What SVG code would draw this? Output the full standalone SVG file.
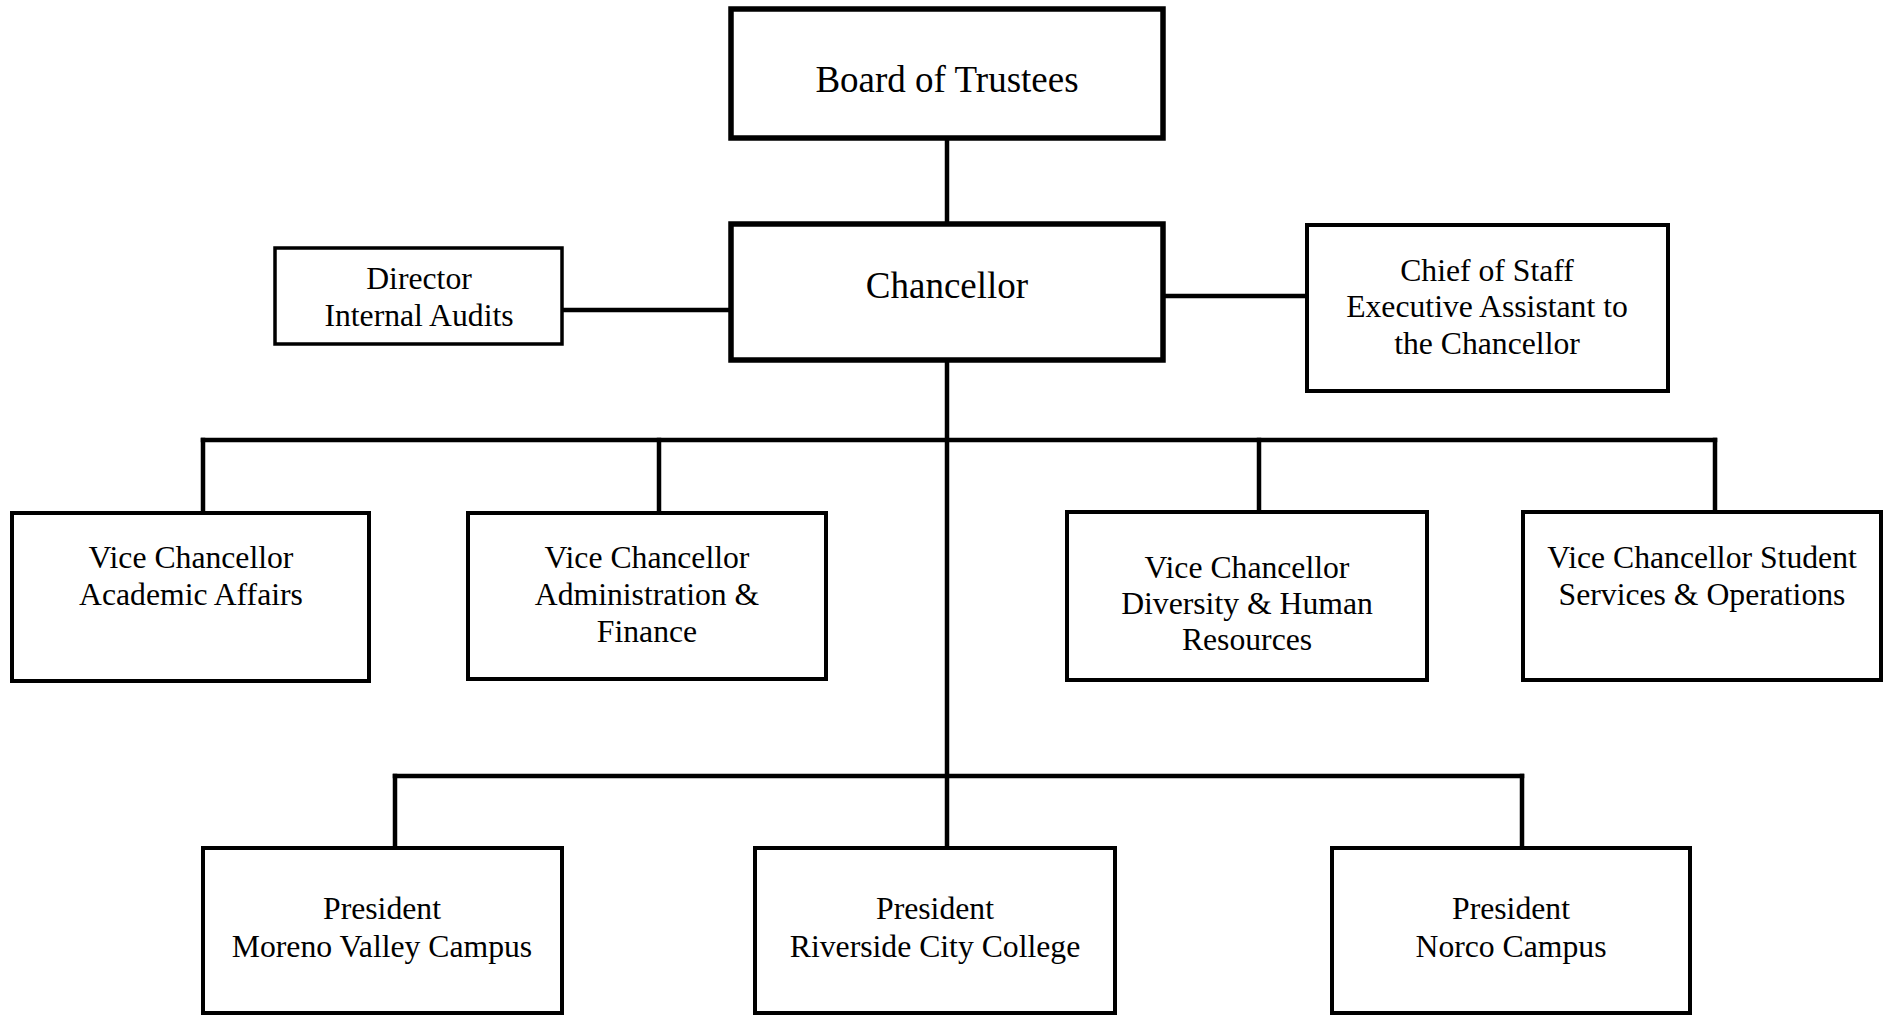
<svg xmlns="http://www.w3.org/2000/svg" width="1889" height="1016" viewBox="0 0 1889 1016">
<style>
.box{fill:#fff;stroke:#000;stroke-width:4}
.big{fill:#fff;stroke:#000;stroke-width:5.5}
.ln{stroke:#000;stroke-width:4.5;fill:none;stroke-linecap:square}
text{font-family:"Liberation Serif","Times New Roman",serif;fill:#000;text-anchor:middle;font-size:31.7px}
.t1{font-size:37px}
</style>
<rect width="1889" height="1016" fill="#fff"/>
<g id="connectors">
<line class="ln" x1="947" y1="141" x2="947" y2="222"/>
<line class="ln" x1="564" y1="310" x2="728" y2="310"/>
<line class="ln" x1="1166" y1="296" x2="1305" y2="296"/>
<line class="ln" x1="947" y1="363" x2="947" y2="846"/>
<line class="ln" x1="203" y1="440" x2="1715" y2="440"/>
<line class="ln" x1="203" y1="440" x2="203" y2="511"/>
<line class="ln" x1="659" y1="440" x2="659" y2="511"/>
<line class="ln" x1="1259" y1="440" x2="1259" y2="510"/>
<line class="ln" x1="1715" y1="440" x2="1715" y2="510"/>
<line class="ln" x1="395" y1="776" x2="1522" y2="776"/>
<line class="ln" x1="395" y1="776" x2="395" y2="846"/>
<line class="ln" x1="1522" y1="776" x2="1522" y2="846"/>
</g>
<g id="board">
<rect class="big" x="731" y="9" width="432" height="129"/>
<text class="t1" x="947" y="92">Board of Trustees</text>
</g>
<g id="chancellor">
<rect class="big" x="731" y="224" width="432" height="136"/>
<text class="t1" x="947" y="298">Chancellor</text>
</g>
<g id="director">
<rect class="box" x="275" y="248" width="287" height="96" style="stroke-width:3.5"/>
<text x="419" y="289">Director</text>
<text x="419" y="326">Internal Audits</text>
</g>
<g id="chief">
<rect class="box" x="1307" y="225" width="361" height="166"/>
<text x="1487" y="281">Chief of Staff</text>
<text x="1487" y="317">Executive Assistant to</text>
<text x="1487" y="354">the Chancellor</text>
</g>
<g id="vc-academic">
<rect class="box" x="12" y="513" width="357" height="168"/>
<text x="191" y="568">Vice Chancellor</text>
<text x="191" y="605">Academic Affairs</text>
</g>
<g id="vc-admin">
<rect class="box" x="468" y="513" width="358" height="166"/>
<text x="647" y="568">Vice Chancellor</text>
<text x="647" y="605">Administration &amp;</text>
<text x="647" y="642">Finance</text>
</g>
<g id="vc-diversity">
<rect class="box" x="1067" y="512" width="360" height="168"/>
<text x="1247" y="578">Vice Chancellor</text>
<text x="1247" y="614">Diversity &amp; Human</text>
<text x="1247" y="650">Resources</text>
</g>
<g id="vc-student">
<rect class="box" x="1523" y="512" width="358" height="168"/>
<text x="1702" y="568">Vice Chancellor Student</text>
<text x="1702" y="605">Services &amp; Operations</text>
</g>
<g id="pres-moreno">
<rect class="box" x="203" y="848" width="359" height="165"/>
<text x="382" y="919">President</text>
<text x="382" y="957">Moreno Valley Campus</text>
</g>
<g id="pres-riverside">
<rect class="box" x="755" y="848" width="360" height="165"/>
<text x="935" y="919">President</text>
<text x="935" y="957">Riverside City College</text>
</g>
<g id="pres-norco">
<rect class="box" x="1332" y="848" width="358" height="165"/>
<text x="1511" y="919">President</text>
<text x="1511" y="957">Norco Campus</text>
</g>
</svg>
